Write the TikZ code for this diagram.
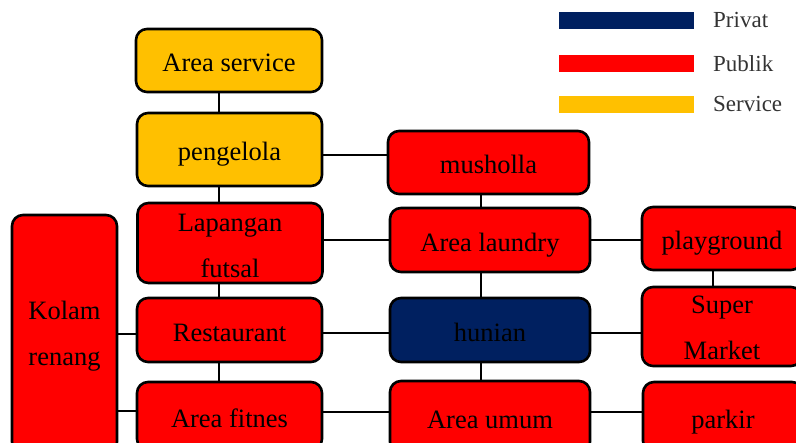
\documentclass[tikz,border=0pt]{standalone}
\usepackage{fontspec}
\setmainfont{Liberation Serif}
\definecolor{privat}{HTML}{002060}
\definecolor{publik}{HTML}{FF0000}
\definecolor{service}{HTML}{FFC000}
\definecolor{legendtext}{HTML}{333333}
\begin{document}
\begin{tikzpicture}[x=1pt,y=-1pt,
  room/.style={draw=black, line width=2.6pt, rounded corners=11pt, inner sep=0pt,
    align=center, font=\fontsize{26.5}{46}\selectfont, text=black,
    text height=23pt, text depth=0pt},
  twoline/.style={text height=#1},
  pub/.style={room, fill=publik},
  srv/.style={room, fill=service},
  prv/.style={room, fill=privat},
  link/.style={draw=black, line width=2.6pt},
  bar/.style={inner sep=0pt, minimum width=135pt, minimum height=17pt},
  legendlabel/.style={anchor=west, inner sep=0pt, font=\fontsize{23}{26}\selectfont, text=legendtext}
]
\useasboundingbox (0,0) rectangle (796,443);
\clip (0,0) rectangle (796,443);

% legend
\node[bar, fill=privat]  (barP) at (626.5,20.5) {};
\node[bar, fill=publik]  (barU) at (626.5,64) {};
\node[bar, fill=service] (barS) at (626.5,104.5) {};
\node[legendlabel] (lblP) at (713,20.5) {Privat};
\node[legendlabel] (lblU) at (713,64) {Publik};
\node[legendlabel] (lblS) at (713,104.5) {Service};

% left column
\node[srv, minimum width=186pt, minimum height=63pt] (svc) at (229,60.5) {Area service};
\node[srv, minimum width=185pt, minimum height=73pt] (peng) at (229.5,149.5) {pengelola};
\node[pub, twoline=70pt, minimum width=185pt, minimum height=80pt] (lap) at (230,243) {Lapangan\\futsal};
\node[pub, minimum width=185pt, minimum height=64pt] (rest) at (229.5,330) {Restaurant};
\node[pub, minimum width=185pt, minimum height=68pt] (fit) at (229.5,416) {Area fitnes};
\node[pub, twoline=64pt, minimum width=105pt, minimum height=238pt] (kolam) at (64.5,334) {Kolam\\renang};

% middle column
\node[pub, minimum width=201pt, minimum height=63pt] (mush) at (488.5,162.5) {musholla};
\node[pub, minimum width=200pt, minimum height=64pt] (laun) at (490,240) {Area laundry};
\node[prv, minimum width=200pt, minimum height=64pt] (hun) at (490,330) {hunian};
\node[pub, minimum width=200pt, minimum height=72pt] (umum) at (490,417) {Area umum};

% right column
\node[pub, minimum width=160pt, minimum height=63pt] (play) at (722,238.5) {playground};
\node[pub, twoline=67pt, minimum width=160pt, minimum height=79pt] (sm) at (722,326.5) {Super\\Market};
\node[pub, minimum width=160pt, minimum height=70pt] (park) at (723,417) {parkir};

% x positions of the vertical links in each column
\coordinate (lcol) at (219,0);
\coordinate (mcol) at (481,0);
\coordinate (rcol) at (713,0);

% vertical links
\path[link] (svc.south -| lcol) -- (peng.north -| lcol);
\path[link] (peng.south -| lcol) -- (lap.north -| lcol);
\path[link] (lap.south -| lcol) -- (rest.north -| lcol);
\path[link] (rest.south -| lcol) -- (fit.north -| lcol);
\path[link] (mush.south -| mcol) -- (laun.north -| mcol);
\path[link] (laun.south -| mcol) -- (hun.north -| mcol);
\path[link] (hun.south -| mcol) -- (umum.north -| mcol);
\path[link] (play.south -| rcol) -- (sm.north -| rcol);

% horizontal links
\path[link] (peng.east |- 0,155) -- (mush.west |- 0,155);
\path[link] (lap.east |- laun.west) -- (laun.west);
\path[link] (laun.east) -- (play.west |- laun.east);
\path[link] (kolam.east |- 0,334) -- (rest.west |- 0,334);
\path[link] (rest.east |- 0,333) -- (hun.west |- 0,333);
\path[link] (hun.east |- 0,333) -- (sm.west |- 0,333);
\path[link] (kolam.east |- 0,411) -- (fit.west |- 0,411);
\path[link] (fit.east |- 0,412) -- (umum.west |- 0,412);
\path[link] (umum.east |- 0,412) -- (park.west |- 0,412);
\end{tikzpicture}
\end{document}
